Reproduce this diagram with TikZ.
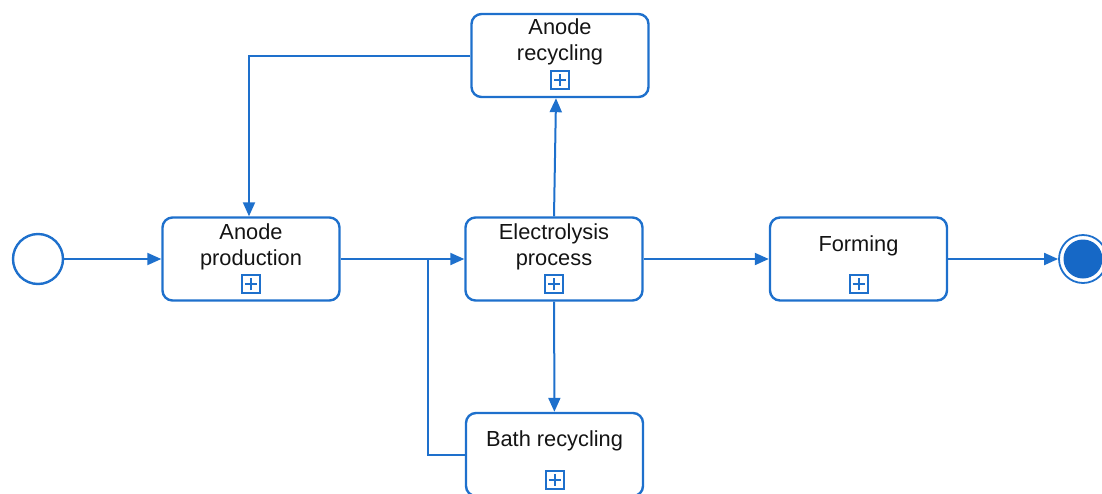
\documentclass[tikz,border=0pt]{standalone}
\usepackage{fontspec}
\setmainfont{Liberation Sans}
\usetikzlibrary{arrows.meta,positioning}
\definecolor{bpmnblue}{RGB}{30,112,204}
\definecolor{bpmnfill}{RGB}{22,104,198}

\begin{document}
\begin{tikzpicture}[x=1pt, y=-1pt,
    task/.style={draw=bpmnblue, line width=2.4pt, rounded corners=10pt,
        minimum width=177pt, minimum height=83pt, inner sep=0pt},
    tasktext/.style={font=\fontsize{21.8}{26}\selectfont, align=center, text=black!92},
    subproc/.style={draw=bpmnblue, line width=2pt, minimum size=18pt, inner sep=0pt,
        path picture={\draw[bpmnblue, line width=2pt]
            ([yshift=3pt]path picture bounding box.south) -- ([yshift=-3pt]path picture bounding box.north)
            ([xshift=3pt]path picture bounding box.west) -- ([xshift=-3pt]path picture bounding box.east);}},
    flow/.style={draw=bpmnblue, line width=2pt, -{Triangle[length=14pt,width=12pt]}},
    plain/.style={draw=bpmnblue, line width=2pt},
]
        \useasboundingbox (0,0) rectangle (1102,493);

        % === Start and end events ===
        \node[draw=bpmnblue, line width=2.4pt, circle, minimum size=50pt, inner sep=0pt] (start) at (38,259) {};
        \node[draw=bpmnblue, line width=1.8pt, circle, minimum size=48pt, inner sep=0pt] (end) at (1083,259) {};
        \node[fill=bpmnfill, circle, minimum size=39pt, inner sep=0pt] (endfill) at (end.center) {};

        % === Tasks (text in upper part, sub-process marker below) ===
        \node[task] (prod) at (251,259) {};
        \node[tasktext] (prodtext) at ([yshift=-31pt]prod.north) {Anode\\production};
        \node[subproc] (prodplus) at ([yshift=-68pt]prod.north) {};

        \node[task] (elec) at (554,259) {};
        \node[tasktext] (electext) at ([yshift=-31pt]elec.north) {Electrolysis\\process};
        \node[subproc] (elecplus) at ([yshift=-68pt]elec.north) {};

        \node[task] (form) at (858.5,259) {};
        \node[tasktext] (formtext) at ([yshift=-30pt]form.north) {Forming};
        \node[subproc] (formplus) at ([yshift=-68pt]form.north) {};

        \node[task] (recyc) at (560,55.5) {};
        \node[tasktext] (recyctext) at ([yshift=-29pt]recyc.north) {Anode\\recycling};
        \node[subproc] (recycplus) at ([yshift=-67pt]recyc.north) {};

        \node[task] (bath) at (554.5,454.5) {};
        \node[tasktext] (bathtext) at ([yshift=-29pt]bath.north) {Bath recycling};
        \node[subproc] (bathplus) at ([yshift=-68pt]bath.north) {};

        % === Sequence flows ===
        \draw[flow] (start) -- (prod);
        \draw[flow] (prod) -- (elec);
        \draw[flow] (elec) -- (form);
        \draw[flow] (form) -- (end);
        \draw[flow] (elec.north) -- ([xshift=-4pt]recyc.south);
        \draw[flow] (recyc.west) -| ([xshift=-2pt]prod.north);
        \draw[flow] (elec) -- (bath);

        % bath recycling joins the main line
        \coordinate (split) at (428,259);
        \draw[plain] (split) |- (bath.west);

    \end{tikzpicture}
\end{document}
